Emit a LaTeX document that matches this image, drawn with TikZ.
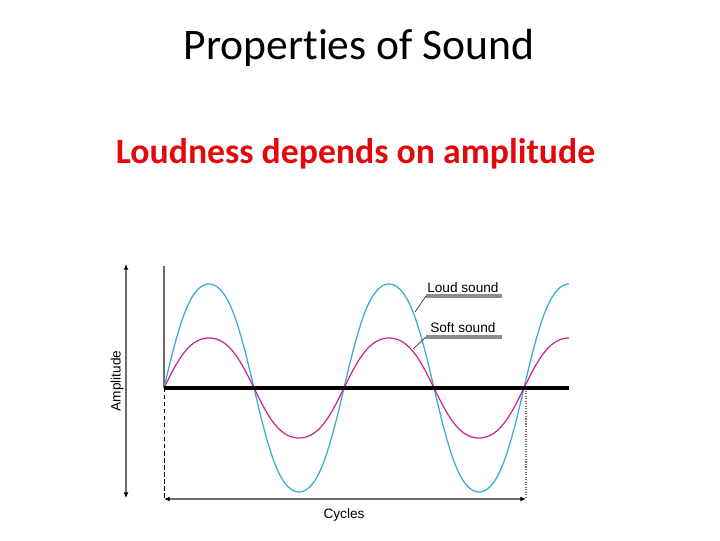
\documentclass[tikz,border=0pt]{standalone}
\usepackage{fontspec}
\setmainfont{Carlito}[Ligatures=NoCommon]
\newfontfamily\arialfam{Liberation Sans}
\usetikzlibrary{arrows.meta, positioning}
\definecolor{rojo}{RGB}{228,8,10}
\definecolor{azulonda}{RGB}{58,172,212}
\definecolor{magentaonda}{RGB}{204,42,140}
\definecolor{grisej}{RGB}{110,110,110}
\tikzset{
  titulo/.style={inner sep=0pt, anchor=base, font=\fontsize{31}{36}\selectfont},
  subtitulo/.style={inner sep=0pt, anchor=base, text=rojo,
                    font=\fontsize{25.4}{30}\selectfont\bfseries},
  etiqueta/.style={inner sep=0pt, font=\arialfam\fontsize{9.7}{11}\selectfont},
  flecha/.style={{Latex[length=4pt,width=3.5pt,color=black]}-{Latex[length=4pt,width=3.5pt,color=black]},
                 draw=grisej, line width=0.8pt}
}

\begin{document}
\begin{tikzpicture}[x=0.025cm, y=-0.025cm,
  eje/.style={draw=grisej, line width=1.1pt},
  cero/.style={draw=black, line width=2.4pt},
  onda/.style={line width=0.9pt, smooth},
  subrayado/.style={draw=gray!90, line width=2.2pt},
  guia/.style={draw=black!80, line width=0.5pt}
]
  \useasboundingbox (0,0) rectangle (720,540);

  % ── Textos de la diapositiva ──
  \node[titulo]    (tit) at (359,59)   {Properties of Sound};
  \node[subtitulo] (sub) at (355.5,163) {Loudness depends on amplitude};

  % ── Ejes ──
  \coordinate (origen) at (164,388);
  \coordinate (tope)   at (164,266);
  \coordinate (fin)    at (569,388);
  \coordinate (ciclo0) at (164,499);
  \coordinate (ciclo1) at (526,499);
  \coordinate (cruce1) at (526,388);
  \draw[eje] (origen) -- (tope);
  \draw[densely dashed, line width=0.5pt] (origen) -- (ciclo0);
  \draw[densely dotted, draw=grisej, line width=0.8pt] (cruce1) -- (ciclo1);

  % ── Ondas (fuerte y suave) ──
  \draw[onda, azulonda] plot[domain=0:810, samples=240]
        ({164+\x/2}, {388-104*(sin(\x)+0.04*sin(3*\x))/0.96});
  \draw[onda, magentaonda] plot[domain=0:810, samples=240]
        ({164+\x/2}, {388-50*(sin(\x)+0.04*sin(3*\x))/0.96});
  \draw[cero] (origen) -- (fin);

  % ── Flechas de amplitud y ciclos ──
  \coordinate (amparr) at (126,264);
  \coordinate (ampab)  at (126,498);
  \draw[flecha] (amparr) -- (ampab);
  \draw[flecha] (ciclo0) -- (ciclo1);
  \node[etiqueta, rotate=90] (amp) at (117,381) {Amplitude};
  \node[etiqueta, anchor=base] (cic) at (344,518) {Cycles};

  % ── Rótulos de las ondas ──
  \node[etiqueta, anchor=base west] (fuerte) at (427,292.5) {Loud sound};
  \node[etiqueta, anchor=base west] (suave)  at (430,332.5) {Soft sound};
  \coordinate (pfuerte) at (415,312);
  \coordinate (psuave)  at (413,349);
  \draw[subrayado] (426,296) -- (502,296);
  \draw[subrayado] (426,337) -- (502,337);
  \draw[guia] (426,296) -- (pfuerte);
  \draw[guia] (426,337) -- (psuave);
\end{tikzpicture}
\end{document}
